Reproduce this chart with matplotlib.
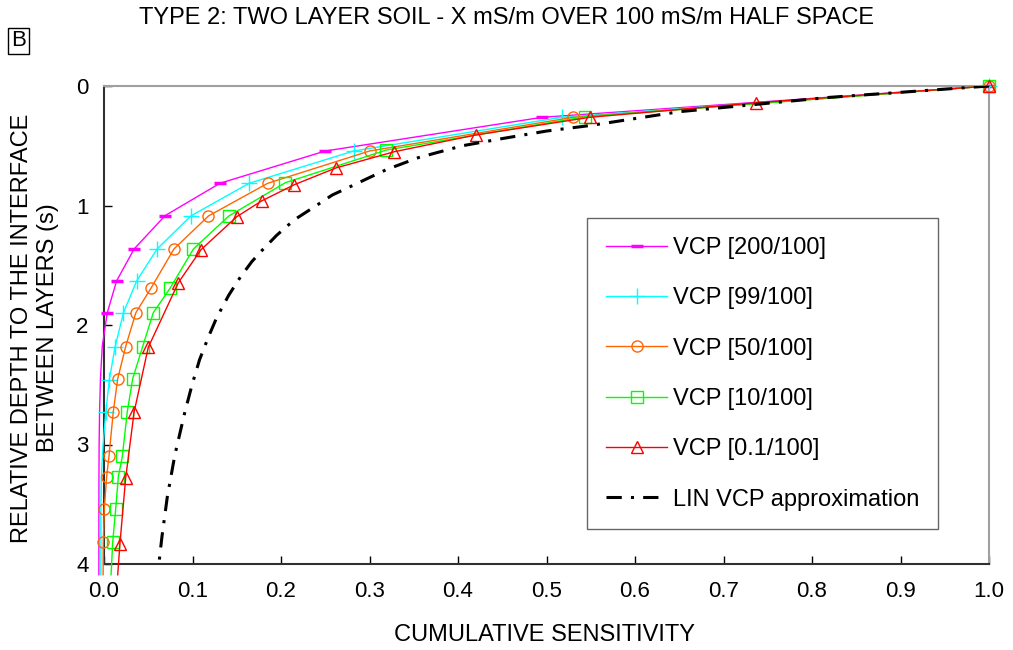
import matplotlib
matplotlib.use("Agg")
import matplotlib.pyplot as plt

# relative depth (s) and cumulative sensitivity
vcp200_depth = [0, 0.262, 0.544, 0.814, 1.085, 1.364, 1.63, 1.897, 2.18, 2.45, 2.73, 3.0, 3.27, 3.54, 3.82, 4.09]
vcp200_sens = [1.0, 0.495, 0.250, 0.131, 0.069, 0.034, 0.0143, 0.0037, -0.002, -0.004, -0.005, -0.0055, -0.0057, -0.0058, -0.0058, -0.0058]

vcp99_depth = [0, 0.262, 0.544, 0.814, 1.088, 1.364, 1.63, 1.897, 2.187, 2.46, 2.73, 3.0, 3.27, 3.54, 3.82, 4.09]
vcp99_sens = [1.0, 0.517, 0.282, 0.164, 0.098, 0.060, 0.037, 0.022, 0.0124, 0.006, 0.002, -0.001, -0.003, -0.0035, -0.0035, -0.0035]

vcp50_depth = [0, 0.262, 0.544, 0.814, 1.088, 1.364, 1.693, 1.897, 2.18, 2.45, 2.725, 3.10, 3.27, 3.54, 3.82, 4.09]
vcp50_sens = [1.0, 0.530, 0.300, 0.185, 0.118, 0.079, 0.053, 0.036, 0.0245, 0.0155, 0.0105, 0.0056, 0.003, 0.0003, -0.0008, -0.001]

vcp10_depth = [0, 0.257, 0.536, 0.809, 1.088, 1.364, 1.693, 1.897, 2.18, 2.45, 2.725, 3.10, 3.27, 3.54, 3.82, 4.09]
vcp10_sens = [1.0, 0.544, 0.319, 0.205, 0.141, 0.101, 0.0746, 0.0557, 0.0437, 0.0324, 0.0263, 0.0207, 0.0162, 0.0132, 0.0098, 0.008]

vcp01_depth = [0, 0.140, 0.262, 0.41, 0.55, 0.686, 0.826, 0.962, 1.094, 1.37, 1.646, 2.187, 2.73, 3.28, 3.83, 4.09]
vcp01_sens = [1.0, 0.737, 0.549, 0.42, 0.328, 0.262, 0.215, 0.178, 0.150, 0.1096, 0.084, 0.050, 0.034, 0.0245, 0.018, 0.0155]

lin_depth = [0, 0.095, 0.215, 0.33, 0.377, 0.44, 0.50, 0.60, 0.70, 0.759, 0.85, 0.912, 1.0, 1.12, 1.25, 1.38,
             1.47, 1.6, 1.75, 1.86, 1.944, 2.1, 2.29, 2.5, 2.74, 3.09, 3.44, 3.77, 4.0]
lin_sens = [1.0, 0.82, 0.65, 0.55, 0.50, 0.45, 0.405, 0.355, 0.319, 0.302, 0.276, 0.258, 0.240, 0.215, 0.195, 0.178,
            0.167, 0.154, 0.141, 0.133, 0.127, 0.118, 0.108, 0.0995, 0.091, 0.080, 0.0715, 0.0655, 0.062]

labels = ["VCP [200/100]", "VCP [99/100]", "VCP [50/100]", "VCP [10/100]", "VCP [0.1/100]"]

plt.rcParams['font.family'] = ['Liberation Sans', 'DejaVu Sans']

fig = plt.figure(figsize=(10.13, 6.5), dpi=100)
ax = fig.add_axes([104 / 1013, 1 - 564 / 650, 885 / 1013, 478 / 650])

kw = dict(lw=1.0, clip_on=False, zorder=3)
ax.plot(vcp200_sens, vcp200_depth, color='#ff00ff', marker='_', ms=9, mew=2.5,
        markevery=list(range(8)), label=labels[0], **kw)
ax.plot(vcp99_sens, vcp99_depth, color='#00ffff', marker='+', ms=12, mew=1.0,
        markevery=list(range(11)), label=labels[1], **kw)
ax.plot(vcp50_sens, vcp50_depth, color='#ff6600', marker='o', ms=8, mfc='none', mew=1.0,
        markevery=list(range(15)), label=labels[2], **kw)
ax.plot(vcp10_sens, vcp10_depth, color='#00ff00', marker='s', ms=8, mfc='none', mew=1.0,
        markevery=list(range(15)), label=labels[3], **kw)
ax.plot(vcp01_sens, vcp01_depth, color='#ff0000', marker='^', ms=9, mfc='none', mew=1.0,
        markevery=list(range(15)), label=labels[4], **kw)
ax.plot(lin_sens, lin_depth, color='black', lw=2.2, linestyle=(0, (5, 3, 1, 3)),
        label="LIN VCP approximation", zorder=4)

ax.set_xlim(0, 1)
ax.set_ylim(4, 0)
ax.set_xticks([i / 10 for i in range(11)])
ax.set_xticklabels([f"{i / 10:.1f}" for i in range(11)])
ax.set_yticks([0, 1, 2, 3, 4])
ax.tick_params(direction='in', length=6, width=1, labelsize=16)
ax.tick_params(axis='x', pad=12)
ax.tick_params(axis='y', pad=11)

for s in ['left', 'bottom']:
    ax.spines[s].set_color('#303030')
    ax.spines[s].set_linewidth(1.5)
for s in ['top', 'right']:
    ax.spines[s].set_color('#a0a0a0')
    ax.spines[s].set_linewidth(1.5)

fig.text(545 / 1013, 1 - 635 / 650, "CUMULATIVE SENSITIVITY", ha='center', va='center', fontsize=17)
fig.text(35 / 1013, 1 - 328 / 650, "RELATIVE DEPTH TO THE INTERFACE\nBETWEEN LAYERS (s)",
         ha='center', va='center', rotation=90, multialignment='center', fontsize=17,
         linespacing=1.25)

leg = ax.legend(loc='upper left', bbox_to_anchor=((587 - 104) / 885, (564 - 218) / 478),
                borderaxespad=0, fontsize=17, frameon=True, fancybox=False, edgecolor='#404040',
                handlelength=2.6, labelspacing=1.2, borderpad=0.8, handletextpad=0.25)
leg.get_frame().set_linewidth(1.0)

fig.text(0.5, 1 - 18 / 650, "TYPE 2: TWO LAYER SOIL - X mS/m OVER 100 mS/m HALF SPACE",
         ha='center', va='center', fontsize=17)
fig.text(18.5 / 1013, 1 - 41 / 650, "B", ha='center', va='center', fontsize=16,
         bbox=dict(boxstyle='square,pad=0.12', fc='white', ec='black', lw=1))

fig.savefig("out.png", dpi=100)
